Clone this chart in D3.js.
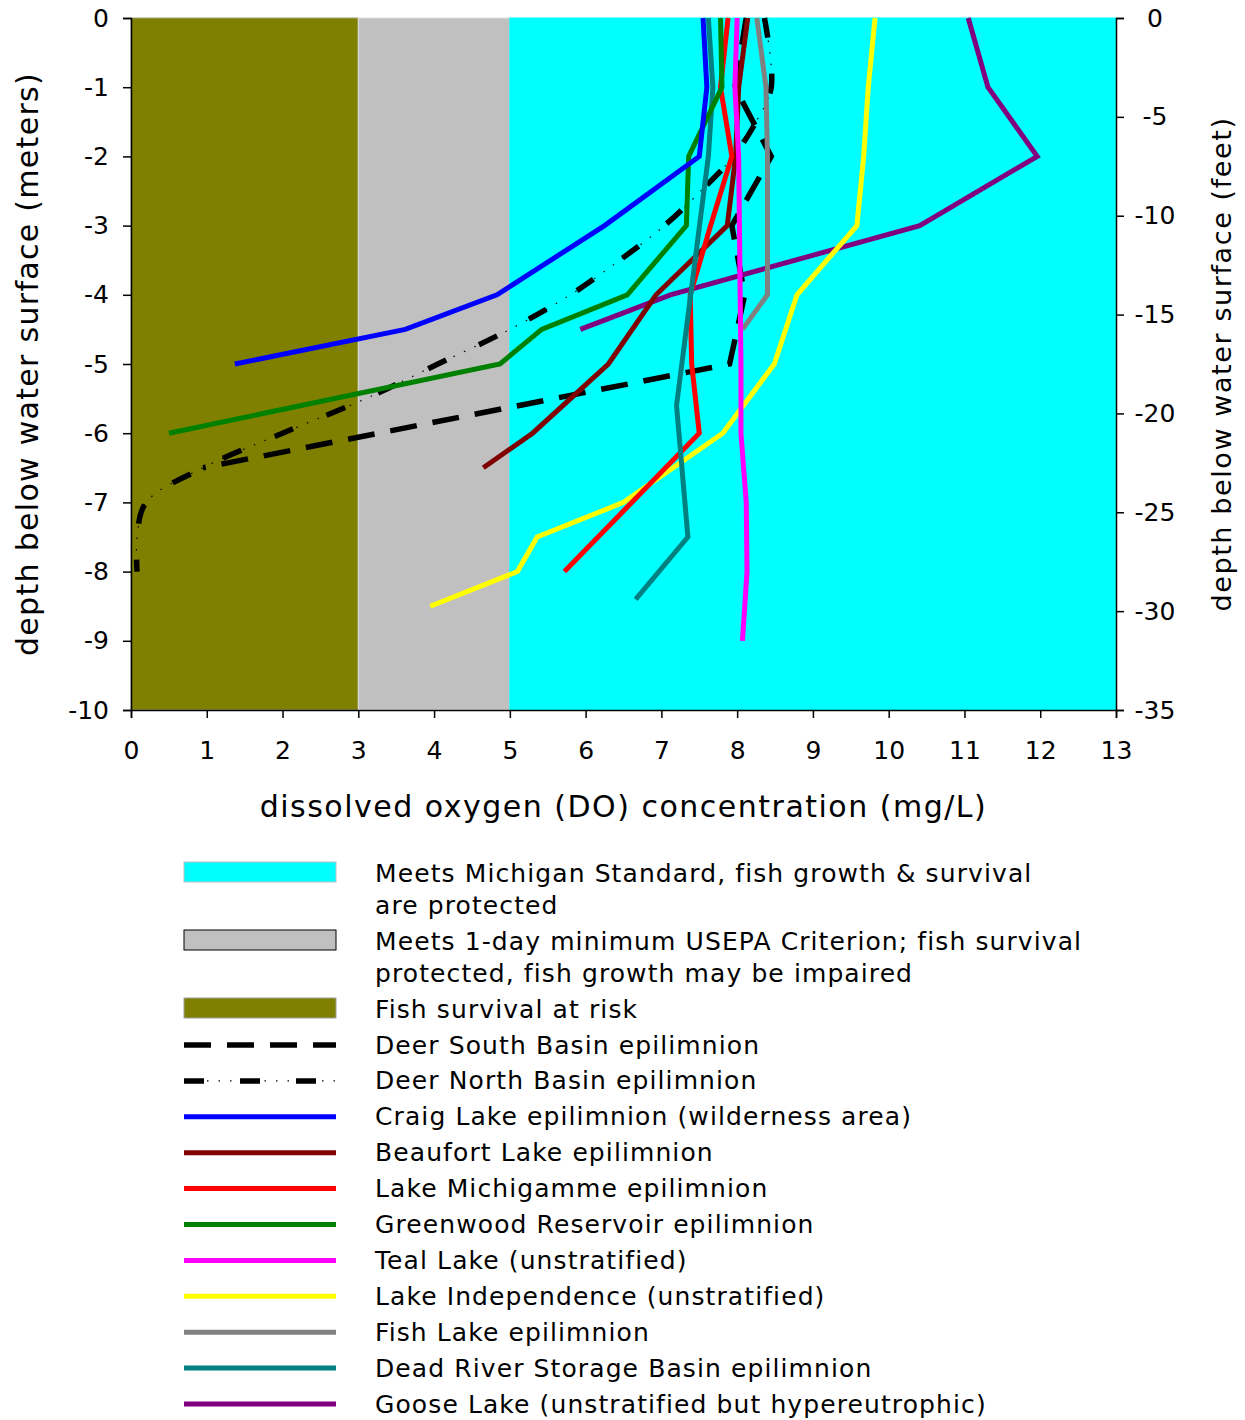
<!DOCTYPE html>
<html>
<head>
<meta charset="utf-8">
<script src="https://cdn.jsdelivr.net/npm/d3@7"></script>
<style>
  html, body { margin: 0; padding: 0; background: #fff; }
  svg { display: block; font-family: "DejaVu Sans", Verdana, sans-serif; }
</style>
</head>
<body>
<svg id="chart" width="1245" height="1420"></svg>
<script>
// Dissolved oxygen profiles: depth (m, negative down) and DO (mg/L)
const deerSouthDepth = [0, -1, -2, -3, -4, -5, -6.5];
const deerSouthDO    = [8.12, 7.97, 8.45, 7.93, 8.1, 7.9, 0.95];

const deerNorthDepth = [0, -1, -1.5, -2, -2.5, -3, -3.5, -4, -4.5, -5, -5.5, -6, -6.5, -7, -7.5, -8];
const deerNorthDO    = [8.36, 8.45, 8.25, 7.95, 7.52, 7.04, 6.45, 5.8, 5.0, 4.05, 3.1, 2.0, 0.95, 0.2, 0.08, 0.08];

const craigDepth = [0, -1, -2, -3, -4, -4.5, -5];
const craigDO    = [7.55, 7.6, 7.5, 6.25, 4.83, 3.62, 1.37];

const beaufortDepth = [0, -1, -2, -3, -4, -5, -6, -6.5];
const beaufortDO    = [8.14, 8.02, 7.98, 7.87, 6.93, 6.3, 5.3, 4.65];

const michigammeDepth = [0, -1, -2, -3, -4, -5, -6, -8];
const michigammeDO    = [7.88, 7.78, 7.93, 7.65, 7.38, 7.4, 7.5, 5.72];

const greenwoodDepth = [0, -1, -2, -3, -4, -4.5, -5, -6];
const greenwoodDO    = [7.78, 7.8, 7.36, 7.33, 6.55, 5.42, 4.87, 0.5];

const tealDepth = [0, -1, -2, -3, -4, -5, -6, -7, -8, -9];
const tealDO    = [8.0, 7.97, 8.02, 8.03, 8.04, 8.05, 8.05, 8.12, 8.13, 8.07];

const independenceDepth = [0, -1, -2, -3, -4, -5, -6, -7, -7.5, -8, -8.5];
const independenceDO    = [9.82, 9.73, 9.67, 9.58, 8.79, 8.49, 7.81, 6.5, 5.36, 5.1, 3.95];

const fishDepth = [0, -1, -2, -3, -4, -4.5];
const fishDO    = [8.26, 8.38, 8.4, 8.4, 8.4, 8.07];

const deadRiverDepth = [0, -1, -2, -5.6, -7.5, -8.4];
const deadRiverDO    = [7.62, 7.68, 7.62, 7.2, 7.35, 6.66];

const gooseDepth = [0, -1, -2, -3, -4, -4.5];
const gooseDO    = [11.05, 11.31, 11.96, 10.41, 7.12, 5.93];

// DO protection zones (mg/L)
const zoneLow   = [0, 3, 5];
const zoneHigh  = [3, 5, 13];

// Axis ticks
const xTicks      = [0, 1, 2, 3, 4, 5, 6, 7, 8, 9, 10, 11, 12, 13];
const yTicksM     = [0, -1, -2, -3, -4, -5, -6, -7, -8, -9, -10];
const yTicksFeet  = [0, -5, -10, -15, -20, -25, -30, -35];

// Legend text
const zoneLabels = [
  ["Meets Michigan Standard, fish growth & survival", "are protected"],
  ["Meets 1-day minimum USEPA Criterion; fish survival", "protected, fish growth may be impaired"],
  ["Fish survival at risk"]
];
const seriesNames = [
  "Deer South Basin epilimnion",
  "Deer North Basin epilimnion",
  "Craig Lake epilimnion (wilderness area)",
  "Beaufort Lake epilimnion",
  "Lake Michigamme epilimnion",
  "Greenwood Reservoir epilimnion",
  "Teal Lake (unstratified)",
  "Lake Independence (unstratified)",
  "Fish Lake epilimnion",
  "Dead River Storage Basin epilimnion",
  "Goose Lake (unstratified but hypereutrophic)"
];

const svg = d3.select("#chart");
const L = 131, R = 1116, T = 18, B = 710;

const x = d3.scaleLinear().domain([0, 13]).range([L, R]);
const y = d3.scaleLinear().domain([-10, 0]).range([B, T]);
const yFt = d3.scaleLinear().domain([-35, 0]).range([B, T]);

// zone bands
const zoneFill   = ["#808000", "#c0c0c0", "#00ffff"];
const zoneStroke = ["#a0a080", "#e0e0e0", "#00ffff"];
svg.append("g").selectAll("rect")
  .data(zoneLow.map((lo, i) => ({ lo, hi: zoneHigh[i], i })))
  .join("rect")
  .attr("x", d => x(d.lo))
  .attr("y", y(0))
  .attr("width", d => x(d.hi) - x(d.lo))
  .attr("height", y(-10) - y(0))
  .attr("fill", d => zoneFill[d.i])
  .attr("stroke", d => zoneStroke[d.i])
  .attr("stroke-width", 1);

// series definitions
const series = [
  { depth: deerSouthDepth,   v: deerSouthDO,   color: "#000000", w: 5.5, dash: "27,16" },
  { depth: deerNorthDepth,   v: deerNorthDO,   color: "#000000", w: 5.5, dash: "20,36", dots: true, smooth: true },
  { depth: craigDepth,       v: craigDO,       color: "#0000ff", w: 5 },
  { depth: beaufortDepth,    v: beaufortDO,    color: "#800000", w: 5 },
  { depth: michigammeDepth,  v: michigammeDO,  color: "#ff0000", w: 5 },
  { depth: greenwoodDepth,   v: greenwoodDO,   color: "#008000", w: 5 },
  { depth: tealDepth,        v: tealDO,        color: "#ff00ff", w: 5 },
  { depth: independenceDepth,v: independenceDO,color: "#ffff00", w: 5 },
  { depth: fishDepth,        v: fishDO,        color: "#808080", w: 5 },
  { depth: deadRiverDepth,   v: deadRiverDO,   color: "#008080", w: 5 },
  { depth: gooseDepth,       v: gooseDO,       color: "#800080", w: 5 }
];

// draw order: dashed Deer profiles beneath the coloured ones
const drawOrder = [0, 1, 10, 7, 8, 3, 6, 4, 9, 5, 2];
const lineGen = d3.line().x(d => x(d[1])).y(d => y(d[0]));
const smoothGen = d3.line().x(d => x(d[1])).y(d => y(d[0])).curve(d3.curveCatmullRom.alpha(0.5));

const gLines = svg.append("g");
drawOrder.forEach(k => {
  const s = series[k];
  const pts = s.depth.map((d, i) => [d, s.v[i]]);
  const gen = s.smooth ? smoothGen : lineGen;
  if (s.dots) {
    gLines.append("path").attr("d", gen(pts))
      .attr("fill", "none").attr("stroke", "#000").attr("stroke-width", 1.2)
      .attr("stroke-dasharray", "1.5,10");
  }
  gLines.append("path").attr("d", gen(pts))
    .attr("fill", "none")
    .attr("stroke", s.color)
    .attr("stroke-width", s.w)
    .attr("stroke-linejoin", "miter")
    .attr("stroke-dasharray", s.dash || null);
});

// axes
const fontFam = "DejaVu Sans, Verdana, sans-serif";
const gx = svg.append("g").attr("transform", `translate(0,${B})`)
  .call(d3.axisBottom(x).tickValues(xTicks).tickFormat(d3.format("d")).tickSize(8).tickPadding(23));
const gy = svg.append("g").attr("transform", `translate(${L},0)`)
  .call(d3.axisLeft(y).tickValues(yTicksM).tickFormat(d3.format("d")).tickSize(8).tickPadding(14));
const gy2 = svg.append("g").attr("transform", `translate(${R},0)`)
  .call(d3.axisRight(yFt).tickValues(yTicksFeet).tickFormat(d3.format("d")).tickSize(8).tickPadding(10));

[gx, gy, gy2].forEach(g => {
  g.selectAll(".domain").attr("stroke", "#000").attr("stroke-width", 1.5);
  g.selectAll(".tick line").attr("stroke", "#000").attr("stroke-width", 1.5);
  g.selectAll(".tick text").attr("fill", "#000")
    .style("font-size", "25px").style("font-family", fontFam);
});
// plain hyphen for negative labels
[gy, gy2].forEach(g => g.selectAll(".tick text").text(function() { return this.textContent.replace("\u2212", "-"); }));
// feet labels are centred in their column
gy2.selectAll(".tick text").attr("text-anchor", "middle").attr("x", 1155 - R);

// axis titles
svg.append("text").attr("x", (L + R) / 2).attr("y", 806)
  .attr("text-anchor", "middle").attr("dominant-baseline", "central")
  .style("font-size", "30px").style("letter-spacing", "1.5px")
  .text("dissolved oxygen (DO) concentration (mg/L)");
svg.append("text").attr("transform", `translate(27,${(T + B) / 2}) rotate(-90)`)
  .attr("text-anchor", "middle").attr("dominant-baseline", "central")
  .style("font-size", "30px").style("letter-spacing", "1.3px")
  .text("depth below water surface (meters)");
svg.append("text").attr("transform", `translate(1221,${(T + B) / 2}) rotate(-90)`)
  .attr("text-anchor", "middle").attr("dominant-baseline", "central")
  .style("font-size", "27px").style("letter-spacing", "1.6px")
  .text("depth below water surface (feet)");

// legend
const lg = svg.append("g");
const symX0 = 184, symX1 = 336, textX = 375;
const zoneRowY = [872, 940, 1008];
const zoneLegFill = ["#00ffff", "#c0c0c0", "#808000"];
const zoneLegStroke = ["#c0c0c0", "#000000", "#a0a0a0"];
const legStyle = t => t.style("font-size", "25px").style("letter-spacing", "1.1px");
zoneLabels.forEach((lines, i) => {
  lg.append("rect").attr("x", symX0).attr("y", zoneRowY[i] - 10)
    .attr("width", symX1 - symX0).attr("height", 20)
    .attr("fill", zoneLegFill[i]).attr("stroke", zoneLegStroke[i]).attr("stroke-width", 1);
  lines.forEach((t, j) => {
    lg.append("text").attr("x", textX).attr("y", zoneRowY[i] + 1 + j * 32)
      .attr("dominant-baseline", "central").call(legStyle).text(t);
  });
});
const rowY0 = 1045, rowStep = 35.9;
seriesNames.forEach((name, i) => {
  const s = series[i];
  const yy = rowY0 + i * rowStep;
  if (s.dots) {
    lg.append("line").attr("x1", symX0).attr("x2", symX1).attr("y1", yy).attr("y2", yy)
      .attr("stroke", "#000").attr("stroke-width", 1.2).attr("stroke-dasharray", "1.5,10");
  }
  lg.append("line").attr("x1", symX0).attr("x2", symX1).attr("y1", yy).attr("y2", yy)
    .attr("stroke", s.color).attr("stroke-width", s.w)
    .attr("stroke-dasharray", s.dash || null);
  lg.append("text").attr("x", textX).attr("y", yy)
    .attr("dominant-baseline", "central").call(legStyle).text(name);
});
</script>
</body>
</html>
